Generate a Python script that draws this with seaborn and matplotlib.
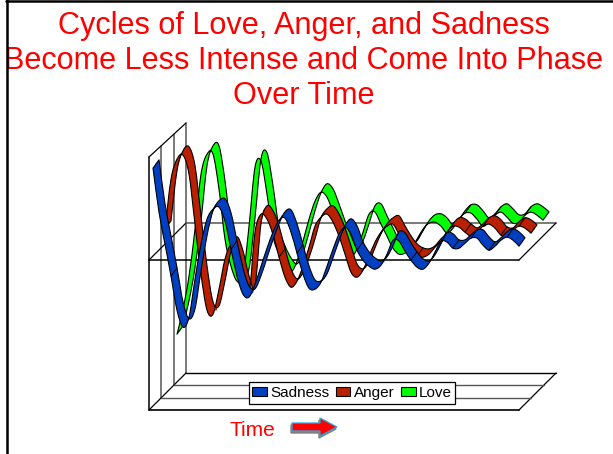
import matplotlib
matplotlib.use('Agg')
import matplotlib.pyplot as plt
import numpy as np
import pandas as pd
import seaborn as sns
from matplotlib.patches import Patch, PathPatch
from matplotlib.path import Path

sadness_y = [164, 208, 240, 272, 306, 323, 313, 275, 240, 215, 205, 203, 217, 245, 272, 290,
             293, 280, 262, 244, 228, 216, 214, 228, 249, 270, 284, 285, 278, 262, 245, 230,
             223, 230, 246, 256, 262, 265, 261, 250, 236, 237, 247, 256, 263, 265, 259, 248,
             237, 238, 244, 244, 239, 234, 234, 241, 246, 242, 236, 233, 236, 242]
anger_y = [225, 175, 155, 151, 170, 220, 270, 306, 310, 285, 255, 241, 255, 280, 290, 228,
           210, 215, 230, 253, 273, 283, 277, 262, 243, 222, 213, 210, 218, 232, 250, 268,
           273, 266, 252, 238, 228, 222, 220, 230, 240, 248, 252, 253, 250, 243, 237, 228,
           222, 223, 228, 232, 228, 222, 220, 224, 231, 232, 226, 222, 224, 229]
love_y = [330, 305, 272, 225, 170, 150, 150, 185, 235, 262, 277, 273, 222, 163, 157, 190,
          232, 250, 262, 268, 257, 237, 215, 197, 188, 193, 208, 225, 240, 252, 245, 228,
          210, 208, 220, 232, 244, 250, 249, 245, 235, 225, 219, 218, 222, 229, 224, 215,
          209, 209, 215, 222, 218, 211, 208, 213, 219, 218, 211, 208, 211, 216]

series_names = ['Love', 'Anger', 'Sadness']
series_values = [love_y, anger_y, sadness_y]
series_colors = ['#00ff00', '#b82000', '#0040c0']
series_depth = [2, 1, 0]
series_seams = [[48, 53, 58], [19, 29, 42, 47, 50, 53, 56, 59], [3, 13, 24, 34, 43, 50, 53, 56, 59]]

title_lines = ['Cycles of Love, Anger, and Sadness',
               'Become Less Intense and Come Into Phase',
               'Over Time']

sns.set_theme(style='white')
plt.rcParams['font.family'] = ['Liberation Sans', 'DejaVu Sans']

fig = plt.figure(figsize=(6.13, 4.54), dpi=100)
ax = fig.add_axes([0, 0, 1, 1])

X0 = 156
STEP = 6
DEPTH = 12
RIB_X = 3
RIB_Y = 4.2


def h(y):
    return 410 - y


def smooth_path(pts):
    # smoothed line through the samples, same idea as the spreadsheet's smoothed option
    verts = [pts[0]]
    n = len(pts)
    for i in range(n - 1):
        p0 = pts[max(i - 1, 0)]
        p1 = pts[i]
        p2 = pts[i + 1]
        p3 = pts[min(i + 2, n - 1)]
        verts += [p1 + (p2 - p0) / 6, p2 - (p3 - p1) / 6, p2]
    return verts


# ------ walls and floor ------
grid = '#555555'
for d in [1, 2, 3]:
    ax.plot([149 + d * 12.33] * 2, [h(410 - d * 12.33), h(157 - d * 11.33)], color=grid, lw=1.1, zorder=1)
ax.plot([149, 149], [h(410), h(157)], color='black', lw=1.1, zorder=1)
ax.plot([149, 186], [h(157), h(123)], color='black', lw=0.9, zorder=1)
ax.plot([149, 186], [h(410), h(373)], color='black', lw=0.9, zorder=1)
ax.plot([149, 186], [h(260), h(223)], color='black', lw=0.9, zorder=1)
ax.plot([149, 519], [h(410), h(410)], color='black', lw=1.2, zorder=1)
ax.plot([519, 556], [h(410), h(373)], color='black', lw=0.9, zorder=1)
ax.plot([186, 556], [h(373), h(373)], color='black', lw=1.0, zorder=1)
ax.plot([161, 531], [h(398), h(398)], color=grid, lw=1.0, zorder=1)
ax.plot([174, 544], [h(385), h(385)], color=grid, lw=1.0, zorder=1)
ax.plot([149, 519], [h(260), h(260)], color='black', lw=1.1, zorder=1)
ax.plot([186, 556], [h(223), h(223)], color=grid, lw=1.1, zorder=1)
ax.plot([519, 556], [h(260), h(223)], color='black', lw=0.9, zorder=1)

# ------ ribbons, back to front ------
for k, (name, vals, col, dep, seams) in enumerate(zip(series_names, series_values, series_colors,
                                                      series_depth, series_seams)):
    y = h(np.array(vals, dtype=float))
    x = X0 + dep * DEPTH + STEP * np.arange(len(y))
    z = 3 + k
    df = pd.DataFrame({'x': x, 'y': y})
    sns.lineplot(data=df, x='x', y='y', sort=False, estimator=None, color=col, lw=1,
                 ax=ax, zorder=z, legend=False)
    front = np.c_[x - RIB_X, y - RIB_Y]
    back = np.c_[x + RIB_X, y + RIB_Y]
    fv = smooth_path(front)
    bv = smooth_path(back[::-1])
    verts = fv + bv + [fv[0]]
    codes = ([Path.MOVETO] + [Path.CURVE4] * (len(fv) - 1) + [Path.LINETO]
             + [Path.CURVE4] * (len(bv) - 1) + [Path.CLOSEPOLY])
    ax.add_patch(PathPatch(Path(verts, codes), facecolor=col, edgecolor='black', lw=0.8,
                           joinstyle='round', zorder=z + 0.2))
    for i in seams:
        ax.plot([front[i, 0], back[i, 0]], [front[i, 1], back[i, 1]], color='black', lw=0.7, zorder=z + 0.4)

ax.set_xlim(0, 613)
ax.set_ylim(-44, 410)
ax.axis('off')

# ------ legend ------
handles = [Patch(facecolor=c, edgecolor='black', lw=0.8, label=n)
           for n, c in zip(series_names[::-1], series_colors[::-1])]
leg = ax.legend(handles=handles, ncol=3, loc='center', bbox_to_anchor=(352 / 613, 1 - 393 / 454),
                frameon=True, fancybox=False, framealpha=1, edgecolor='black', fontsize=11,
                handlelength=0.95, handleheight=0.6, handletextpad=0.2, columnspacing=0.45,
                borderpad=0.25, borderaxespad=0, labelspacing=0, labelcolor='black')
leg.get_frame().set_linewidth(0.9)
leg.set_zorder(10)

# ------ text ------
for line, ty in zip(title_lines, [34, 69, 104]):
    ax.text(304, h(ty), line, color='#ff0000', fontsize=22.1, ha='center', va='baseline', zorder=11)
ax.text(230, h(436), 'Time', color='#ff0000', fontsize=15, ha='left', va='baseline', zorder=11)

# arrow next to the x label, with its shadow
ax.arrow(291, h(429), 45, 0, width=8, head_width=18, head_length=17, length_includes_head=True,
         facecolor='#808080', edgecolor='#808080', lw=1, zorder=11)
ax.arrow(292, h(427), 45, 0, width=8, head_width=18, head_length=17, length_includes_head=True,
         facecolor='#ff0000', edgecolor='#29a8e0', lw=0.9, zorder=12)

# ------ slide border ------
ax.fill([0, 6, 6, 0], [h(0), h(0), h(454), h(454)], color='white', zorder=13)
ax.plot([6.5, 6.5], [h(0), h(454)], color='black', lw=1.8, zorder=14)
ax.plot([6, 613], [h(0.5), h(0.5)], color='black', lw=1.8, zorder=14)

fig.savefig('out.png', dpi=100)
